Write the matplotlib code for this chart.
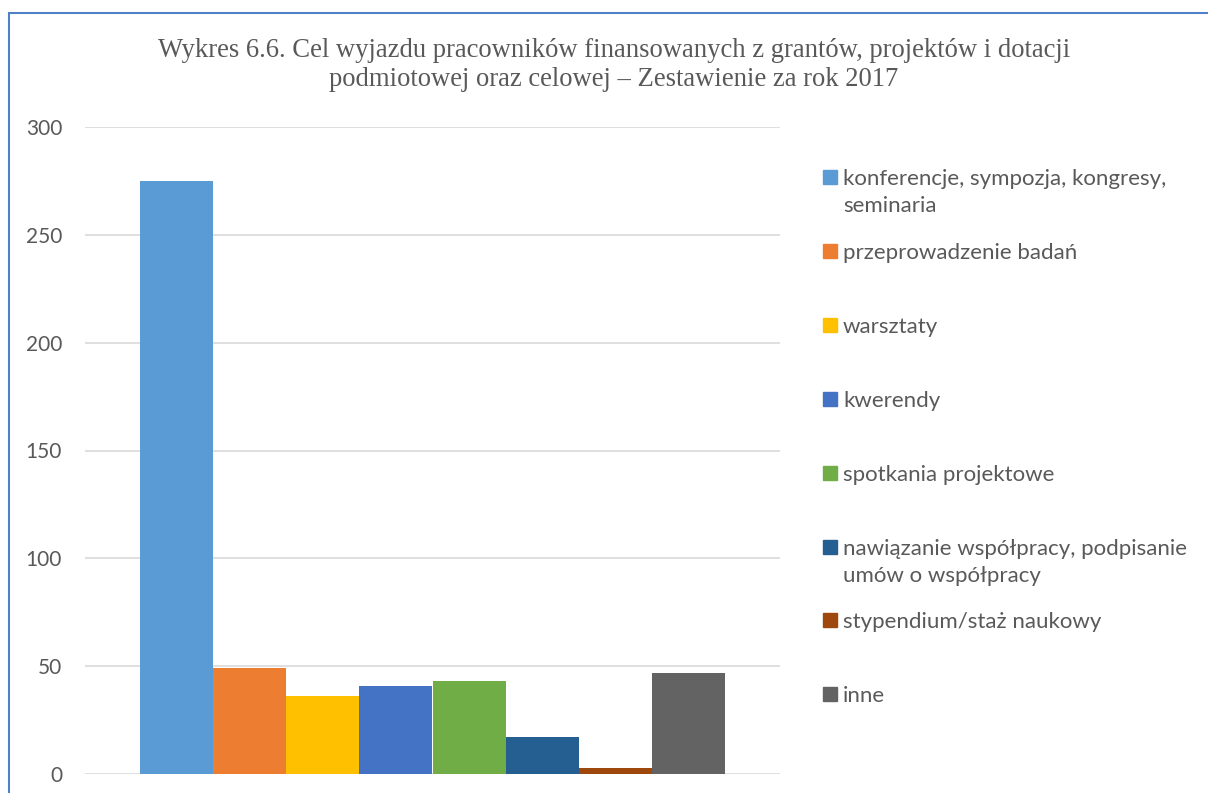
import matplotlib
matplotlib.use("Agg")
import matplotlib.pyplot as plt
from matplotlib.patches import Rectangle

categories = ["konferencje, sympozja, kongresy,\nseminaria", "przeprowadzenie badań", "warsztaty",
              "kwerendy", "spotkania projektowe",
              "nawiązanie współpracy, podpisanie\numów o współpracy",
              "stypendium/staż naukowy", "inne"]
values = [275, 49, 36, 41, 43, 17, 3, 47]
colors = ["#5B9BD5", "#ED7D31", "#FFC000", "#4472C4", "#70AD47", "#255E91", "#9E480E", "#636363"]
yticks = [0, 50, 100, 150, 200, 250, 300]
title = ("Wykres 6.6. Cel wyjazdu pracowników finansowanych z grantów, projektów i dotacji\n"
         "podmiotowej oraz celowej – Zestawienie za rok 2017")

W, H = 1208, 793
fig = plt.figure(figsize=(W / 100, H / 100), dpi=100)
fig.patch.set_facecolor("white")

# chart frame (blue border, partially visible)
fig.add_artist(Rectangle((9 / W, -0.1), 1.2, 1 - 13 / H + 0.1, transform=fig.transFigure,
                         fill=False, edgecolor="#4F81C7", linewidth=1.5))

ax = fig.add_axes([85 / W, 1 - 774 / H, (780 - 85) / W, (774 - 127) / H])
xs = list(range(len(values)))
bars = ax.bar(xs, values, width=1.0, color=colors, zorder=3)
g = 0.75
ax.set_xlim(-0.5 - g, len(values) - 0.5 + g)
ax.set_ylim(0, 300)
ax.set_yticks(yticks)
ax.set_xticks([])
ax.yaxis.grid(True, color="#D9D9D9", linewidth=1.2, zorder=0)
ax.set_axisbelow(True)
for s in ax.spines.values():
    s.set_visible(False)
ax.tick_params(axis="y", length=0, pad=16.5, labelsize=15, labelcolor="#595959")
for lab in ax.get_yticklabels():
    lab.set_fontfamily("Lato")

fig.text(614 / W, 1 - 65 / H, title, ha="center", va="center", fontsize=19.2,
         family="Liberation Serif", color="#595959", linespacing=1.22)

# legend
marker_y = [177, 251, 325, 399, 473, 547, 620, 694]
for lab, c, y in zip(categories, colors, marker_y):
    fig.add_artist(Rectangle((823 / W, 1 - (y + 7) / H), 14 / W, 14 / H,
                             transform=fig.transFigure, color=c))
    for i, line in enumerate(lab.split("\n")):
        fig.text(843 / W, 1 - (y + 8 + 27 * i) / H, line, ha="left", va="baseline",
                 fontsize=16, family="Lato", color="#595959")

fig.savefig("out.png", dpi=100)
